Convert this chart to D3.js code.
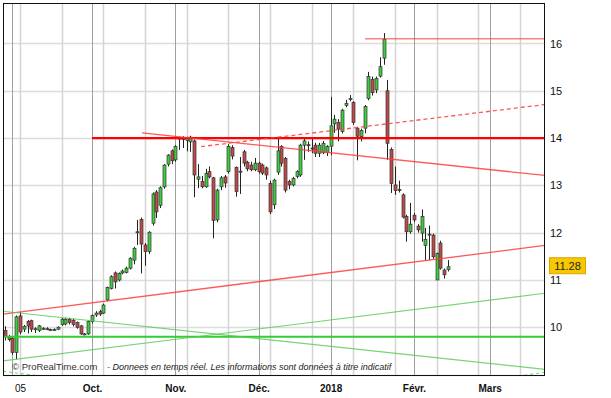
<!DOCTYPE html>
<html>
<head>
<meta charset="utf-8">
<script src="https://cdn.jsdelivr.net/npm/d3@7/dist/d3.min.js"></script>
<style>
  body { margin: 0; background: #fff; }
  svg { display: block; font-family: "Liberation Sans", Arial, sans-serif; }
</style>
</head>
<body>
<div class="main"></div>
<script>
// daily candles, index 0 = 30 Aug 2017 (trading days only)
const opens = [9.93, 9.80, 9.76, 9.47, 10.24, 9.96, 10.12, 10.14, 9.95, 9.93,
  9.97, 9.97, 9.95, 9.94, 9.96, 10.06, 10.07, 10.17, 10.15, 10.10,
  10.03, 9.85, 9.86, 10.12, 10.26, 10.33, 10.30, 10.58, 10.82, 11.15,
  11.00, 11.15, 11.16, 11.25, 11.42, 12.00, 12.28, 11.74, 11.60, 12.20,
  12.86, 12.58, 12.97, 13.45, 13.73, 13.54, 13.98, 14.00, 13.95, 13.92,
  13.94, 13.13, 13.08, 12.97, 13.29, 13.16, 12.27, 12.97, 13.18, 13.29,
  13.80, 13.38, 13.30, 13.71, 13.49, 13.43, 13.33, 13.47, 13.43, 13.37,
  13.04, 12.59, 13.28, 13.82, 13.57, 13.08, 13.01, 13.19, 13.22, 13.85,
  13.86, 13.79, 13.85, 13.68, 13.69, 13.70, 13.83, 14.30, 14.33, 14.14,
  14.69, 14.83, 14.75, 14.21, 14.03, 14.21, 14.84, 15.24, 15.02, 15.31,
  15.69, 15.00, 13.76, 13.01, 12.91, 12.80, 12.34, 12.02, 12.37, 12.14,
  11.99, 11.73, 11.97, 11.95, 11.00, 11.78, 11.21, 11.22]
const highs = [10.02, 9.84, 9.80, 10.25, 10.32, 10.05, 10.15, 10.16, 10.00, 10.05,
  10.00, 10.00, 9.97, 9.98, 10.02, 10.20, 10.20, 10.20, 10.18, 10.12,
  10.05, 9.88, 10.14, 10.27, 10.34, 10.37, 10.50, 10.86, 11.10, 11.18,
  11.16, 11.22, 11.28, 11.48, 11.70, 12.27, 12.32, 11.78, 12.03, 12.85,
  12.90, 12.98, 13.45, 13.66, 13.76, 13.85, 14.03, 14.04, 14.03, 14.05,
  13.97, 13.45, 13.20, 13.35, 13.40, 13.18, 12.93, 13.20, 13.22, 13.87,
  13.85, 13.40, 13.60, 13.75, 13.52, 13.50, 13.58, 13.50, 13.46, 13.40,
  13.10, 13.14, 14.00, 13.85, 13.60, 13.12, 13.18, 13.32, 13.88, 14.00,
  13.93, 14.00, 13.90, 13.90, 13.94, 13.85, 14.87, 14.49, 14.40, 14.62,
  14.81, 14.91, 14.78, 14.24, 14.20, 14.70, 15.40, 15.30, 15.30, 15.71,
  16.22, 15.23, 13.80, 13.40, 13.10, 12.83, 12.38, 12.63, 12.42, 12.18,
  12.49, 12.10, 12.15, 11.98, 11.58, 11.83, 11.24, 11.42]
const lows = [9.72, 9.70, 9.42, 9.32, 9.85, 9.90, 9.87, 9.90, 9.88, 9.90,
  9.94, 9.94, 9.92, 9.92, 9.94, 10.03, 10.04, 10.06, 10.02, 9.97,
  9.84, 9.83, 9.84, 10.08, 10.22, 10.24, 10.28, 10.55, 10.80, 10.82,
  10.97, 11.12, 11.14, 11.22, 11.33, 11.74, 11.14, 11.30, 11.55, 12.15,
  12.31, 12.52, 12.93, 13.40, 13.45, 13.50, 13.75, 13.79, 13.72, 13.71,
  12.75, 12.94, 12.94, 12.95, 13.15, 11.88, 12.22, 12.90, 12.95, 13.25,
  13.55, 12.76, 12.82, 13.40, 13.30, 13.30, 13.30, 13.25, 13.22, 13.12,
  12.39, 12.50, 13.22, 13.40, 12.85, 12.92, 12.98, 13.15, 13.18, 13.54,
  13.71, 13.68, 13.60, 13.60, 13.66, 13.62, 13.64, 14.11, 13.93, 14.10,
  14.65, 14.78, 14.28, 13.53, 13.93, 14.10, 14.80, 14.90, 14.95, 15.28,
  15.55, 13.54, 12.84, 12.80, 12.85, 12.30, 11.81, 11.98, 12.22, 12.00,
  11.81, 11.42, 11.42, 11.45, 11.00, 11.22, 11.03, 11.18]
const closes = [9.80, 9.74, 9.47, 10.22, 9.90, 10.02, 10.03, 9.96, 9.97, 10.03,
  9.98, 9.96, 9.94, 9.95, 10.00, 10.17, 10.17, 10.10, 10.06, 10.00,
  9.86, 9.86, 10.12, 10.25, 10.30, 10.28, 10.47, 10.84, 11.07, 10.96,
  11.14, 11.19, 11.25, 11.46, 11.67, 12.02, 11.76, 11.60, 12.01, 12.82,
  12.44, 12.95, 13.43, 13.64, 13.52, 13.82, 14.00, 13.97, 14.00, 14.02,
  13.22, 13.18, 12.97, 13.25, 13.18, 12.26, 12.90, 13.16, 13.05, 13.82,
  13.62, 12.87, 13.28, 13.47, 13.35, 13.33, 13.47, 13.29, 13.26, 13.22,
  12.44, 13.11, 13.73, 13.47, 12.90, 13.01, 13.15, 13.29, 13.85, 13.94,
  13.84, 13.77, 13.68, 13.85, 13.89, 13.82, 14.26, 14.40, 14.19, 14.59,
  14.73, 14.84, 14.33, 14.04, 14.16, 14.67, 15.30, 14.96, 15.26, 15.51,
  16.09, 13.89, 13.04, 12.89, 12.90, 12.33, 12.02, 12.18, 12.27, 12.06,
  12.34, 11.86, 11.95, 11.49, 11.56, 11.25, 11.11, 11.28]

// x axis (trading-day index)
const labelIdx = [4, 23, 45, 67, 86, 108, 128]
const labelText = ["05", "Oct.", "Nov.", "Déc.", "2018", "Févr.", "Mars"]
const monthIdx = [2, 23, 45, 67, 86, 108, 128]
const gridIdx = [4, 15, 26, 37, 48, 59, 70, 81, 92, 103, 114, 125, 136]
const priceTicks = [10, 11, 12, 13, 14, 15, 16]
const gridPrices = [9, 10, 11, 12, 13, 14, 15, 16]

// drawn lines: [startIdx, startPrice, endIdx, endPrice]
const redLines = [
  [23, 14.0, 142.6, 14.0],
  [95.1, 16.10, 142.6, 16.10],
  [36.2, 14.11, 142.6, 13.21],
  [51.8, 13.82, 142.6, 14.71],
  [-0.5, 10.28, 142.6, 11.73]
]
const greenLines = [
  [-0.5, 9.80, 142.6, 9.80],
  [-0.5, 10.34, 142.6, 9.11],
  [-0.5, 9.29, 142.6, 10.72],
  [-0.5, 9.07, 12, 8.94],
  [134, 8.95, 142.6, 9.05]
]

const width = 611
const height = 398
const m = { left: 3, top: 3, right: 545, bottom: 376 }

const x = d3.scaleLinear().domain([-0.5, 142.6]).range([m.left, m.right])
const y = d3.scaleLinear().domain([8.97, 16.856]).range([m.bottom, m.top])

const svg = d3.select(".main").append("svg")
  .attr("width", width)
  .attr("height", height)

svg.append("clipPath").attr("id", "plot")
  .append("rect")
  .attr("x", m.left).attr("y", m.top)
  .attr("width", m.right - m.left).attr("height", m.bottom - m.top)

// grid
svg.append("g").selectAll("line")
  .data(gridPrices)
  .join("line")
    .attr("x1", m.left).attr("x2", m.right)
    .attr("y1", d => Math.round(y(d)) + 0.5).attr("y2", d => Math.round(y(d)) + 0.5)
    .attr("stroke", "#dcdcdc").attr("stroke-width", 1.5)

svg.append("g").selectAll("line")
  .data(gridIdx)
  .join("line")
    .attr("x1", d => Math.round(x(d)) + 0.5).attr("x2", d => Math.round(x(d)) + 0.5)
    .attr("y1", m.top).attr("y2", m.bottom)
    .attr("stroke", "#d4d4d4").attr("stroke-width", 1.5)

svg.append("g").selectAll("line")
  .data(monthIdx)
  .join("line")
    .attr("x1", d => Math.round(x(d)) + 0.5).attr("x2", d => Math.round(x(d)) + 0.5)
    .attr("y1", m.top).attr("y2", m.bottom)
    .attr("stroke", "#a0a0a0").attr("stroke-width", 1)

// copyright
svg.append("text")
  .attr("x", 12).attr("y", 370)
  .attr("font-size", "9.5px").attr("fill", "#333")
  .text("© ProRealTime.com")
svg.append("text")
  .attr("x", 107).attr("y", 370)
  .attr("font-size", "9px").attr("font-style", "italic").attr("fill", "#222")
  .text("- Donnees en temps réel. Les informations sont données à titre indicatif")

// candles
const candles = svg.append("g").attr("clip-path", "url(#plot)")
  .selectAll("g")
  .data(closes)
  .join("g")

candles.append("line")
  .attr("x1", (_, i) => Math.round(x(i)) + 0.5)
  .attr("x2", (_, i) => Math.round(x(i)) + 0.5)
  .attr("y1", (_, i) => y(highs[i]))
  .attr("y2", (_, i) => y(lows[i]))
  .attr("stroke", "#222")

candles.append("rect")
  .attr("x", (_, i) => Math.round(x(i)) - 1)
  .attr("y", (d, i) => y(Math.max(d, opens[i])))
  .attr("width", 3)
  .attr("height", (d, i) => Math.max(1, Math.abs(y(d) - y(opens[i]))))
  .attr("fill", (d, i) => d >= opens[i] ? "#3fcc3f" : "#c04a4a")
  .attr("stroke", "#333")
  .attr("stroke-width", 0.7)

// trend lines
const lines = svg.append("g").attr("clip-path", "url(#plot)")

lines.selectAll(".red")
  .data(redLines)
  .join("line")
    .attr("class", "red")
    .attr("x1", d => x(d[0])).attr("y1", d => y(d[1]))
    .attr("x2", d => x(d[2])).attr("y2", d => y(d[3]))
    .attr("stroke", (_, i) => i === 0 ? "#ff0000" : "#ff3b3b")
    .attr("stroke-opacity", (_, i) => i === 0 ? 1 : (i === 1 ? 0.65 : 0.85))
    .attr("stroke-width", (_, i) => i === 0 ? 2.2 : 1.3)
    .attr("stroke-dasharray", (_, i) => i === 3 ? "4,3" : null)

lines.selectAll(".green")
  .data(greenLines)
  .join("line")
    .attr("class", "green")
    .attr("x1", d => x(d[0])).attr("y1", d => y(d[1]))
    .attr("x2", d => x(d[2])).attr("y2", d => y(d[3]))
    .attr("stroke", (_, i) => i === 0 ? "#33cc33" : "#55c955")
    .attr("stroke-opacity", (_, i) => i === 0 ? 1 : 0.8)
    .attr("stroke-width", (_, i) => i === 0 ? 2.2 : 1.1)
    .attr("stroke-dasharray", (_, i) => i > 2 ? "3,3" : null)

// frame
svg.append("rect")
  .attr("x", m.left + 0.5).attr("y", m.top + 0.5)
  .attr("width", m.right - m.left - 1).attr("height", m.bottom - m.top - 1)
  .attr("fill", "none").attr("stroke", "#111").attr("stroke-width", 1)

// axes
const yAxis = svg.append("g")
  .attr("transform", `translate(${m.right},0)`)
  .call(d3.axisRight(y).tickValues(priceTicks).tickSize(0).tickPadding(5).tickFormat(d3.format("d")))
yAxis.select(".domain").remove()
yAxis.selectAll("text")
  .attr("font-size", "11px").attr("fill", "#111")
  .attr("font-family", "'Liberation Sans', Arial, sans-serif")

const xAxis = svg.append("g")
  .attr("transform", `translate(0,${m.bottom})`)
  .call(d3.axisBottom(x).tickValues(labelIdx).tickSize(0).tickPadding(9).tickFormat((d, i) => labelText[i]))
xAxis.select(".domain").remove()
xAxis.selectAll("text")
  .attr("font-size", "10px").attr("fill", "#111")
  .attr("font-weight", (_, i) => i === 0 ? "normal" : "bold")
  .attr("font-family", "'Liberation Sans', Arial, sans-serif")

// last price tag
const last = closes[closes.length - 1]
svg.append("rect")
  .attr("x", 549.5).attr("y", y(last) - 9)
  .attr("width", 36).attr("height", 16)
  .attr("fill", "#f7c800").attr("stroke", "#d9a400")
svg.append("text")
  .attr("x", 567.5).attr("y", y(last) - 1)
  .attr("dy", "0.35em")
  .attr("text-anchor", "middle")
  .attr("font-size", "11px").attr("fill", "#222")
  .text(d3.format(".2f")(last))
</script>
</body>
</html>
